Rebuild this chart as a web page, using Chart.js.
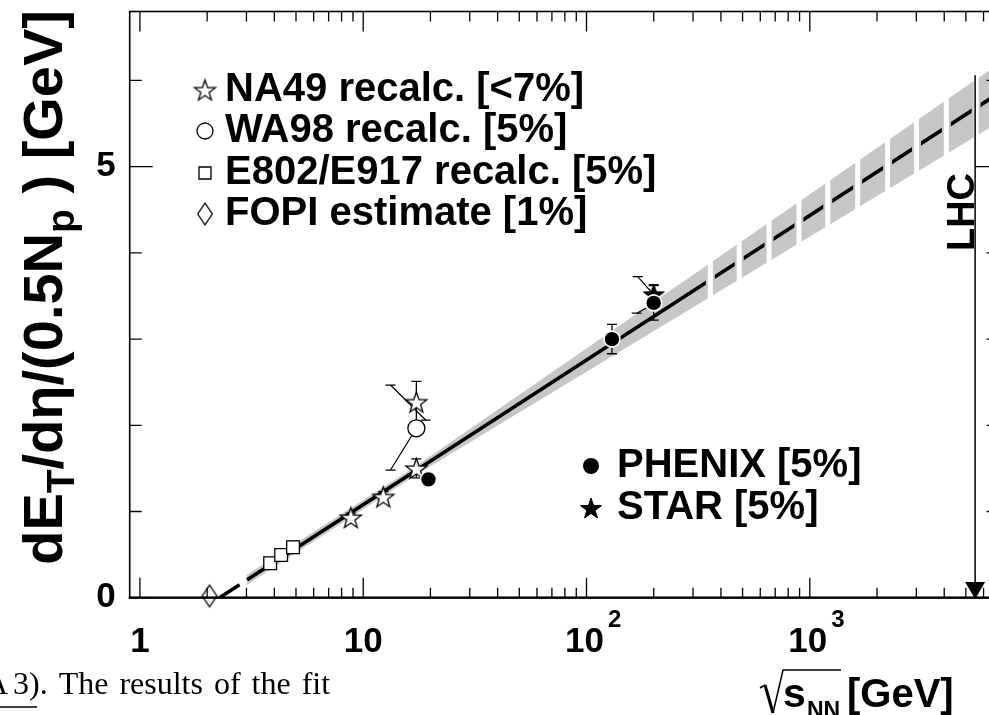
<!DOCTYPE html>
<html><head><meta charset="utf-8">
<script src="https://cdn.jsdelivr.net/npm/chart.js@4.4.0/dist/chart.umd.min.js"></script>
<style>html,body{margin:0;padding:0;overflow:hidden;background:#fff;width:989px;height:715px}canvas{display:block}</style>
</head><body>
<canvas id="c" width="1010" height="715"></canvas>
<script>
// ---------------- data ----------------
const na49X = [8.8, 12.3, 17.3, 17.3];
const na49Y = [0.93, 1.17, 1.50, 2.27];
const na49Err = [0.05, 0.06, 0.11, 0.24];
const wa98X = [17.3];
const wa98Y = [1.965];
const e802X = [3.83, 4.29, 4.85];
const e802Y = [0.40, 0.495, 0.585];
const e802Err = [0.05, 0.06, 0.07];
const fopiX = [2.05];
const fopiY = [0.02];
const phenixX = [19.6, 130, 200];
const phenixY = [1.373, 3.00, 3.42];
const phenixErr = [0.07, 0.17, 0.20];
const starX = [200];
const starY = [3.52];
const starErr = [0.11];
// tilted systematic lines (start / end points)
const tiltX1 = [13.25, 17.3, 169.5, 184.6];
const tiltY1 = [2.467, 1.965, 3.724, 3.357];
const tiltX2 = [19.04, 13.25, 197.7, 167.8];
const tiltY2 = [2.061, 1.481, 3.531, 3.30];
const tiltCap1 = [true, false, true, false];
const tiltCap2 = [true, true, false, true];
// fit line and its uncertainty band
const fitX = [2.27, 4.9, 300, 7000];
const fitY = [0, 0.56, 3.557, 5.851];
const bandX = [3.0, 17, 7000];
const bandLo = [0.143, 1.416, 5.511];
const bandHi = [0.263, 1.516, 6.191];
// breaks of the dashed extrapolation
const gapX = [358.6, 483, 657, 894, 1204, 1639, 2230, 3003, 4087, 5559];
const gapLo = [3.35, 3.55, 3.75, 3.95, 4.15, 4.35, 4.58, 4.8, 5.0, 5.2];
const gapHi = [4.05, 4.25, 4.5, 4.75, 5.0, 5.2, 5.45, 5.7, 5.93, 6.15];
const dashGapY = [3.69, 3.90, 4.13, 4.35, 4.57, 4.79, 5.02, 5.24, 5.46, 5.68];
// LHC marker
const lhcX = [5500, 5500];
const lhcY = [6.06, 0.116];
// axes
const xMajorTicks = [1, 10, 100, 1000];
const xTickBase = ['1', '10', '10', '10'];
const xTickExp = ['', '', '2', '3'];
const yTicks = [0, 1, 2, 3, 4, 5, 6];
const yMajorTicks = [0, 5];
const yTickLabels = ['0', '5'];
const legendTop = ['NA49 recalc. [<7%]', 'WA98 recalc. [5%]', 'E802/E917 recalc. [5%]', 'FOPI estimate [1%]'];
const legendBottom = ['PHENIX [5%]', 'STAR [5%]'];
const paperWords = ['3).', 'The', 'results', 'of', 'the', 'fit'];

// ---------------- marker images ----------------
function makeStar(R, filled, lw) {
  const s = Math.ceil(2 * R + 2 * lw + 2);
  const c = document.createElement('canvas'); c.width = s; c.height = s;
  const g = c.getContext('2d');
  g.translate(s / 2, s / 2 + R * 0.095);
  g.beginPath();
  for (let i = 0; i < 10; i++) {
    const r = i % 2 ? R * 0.4 : R;
    const a = -Math.PI / 2 + i * Math.PI / 5;
    const px = r * Math.cos(a), py = r * Math.sin(a);
    if (i) g.lineTo(px, py); else g.moveTo(px, py);
  }
  g.closePath();
  g.fillStyle = filled ? '#000' : '#fff'; g.fill();
  g.lineWidth = lw; g.strokeStyle = '#000'; g.stroke();
  return c;
}
function makeDiamond(hw, hh, lw) {
  const w = Math.ceil(2 * hw + 2 * lw + 2), h = Math.ceil(2 * hh + 2 * lw + 2);
  const c = document.createElement('canvas'); c.width = w; c.height = h;
  const g = c.getContext('2d');
  g.translate(w / 2, h / 2);
  g.beginPath(); g.moveTo(0, -hh); g.lineTo(hw, 0); g.lineTo(0, hh); g.lineTo(-hw, 0); g.closePath();
  g.fillStyle = '#fff'; g.fill(); g.lineWidth = lw; g.strokeStyle = '#000'; g.stroke();
  return c;
}
const openStar = makeStar(11, false, 1.3);
const fullStar = makeStar(11, true, 1);
const diamond = makeDiamond(7.3, 10.8, 1.3);

// ---------------- tables built from the arrays ----------------
const pts = (xs, ys) => xs.map((x, i) => ({ x: x, y: ys[i] }));
function errTable(xs, ys, es) {
  const out = [];
  xs.forEach((x, i) => { if (es[i] > 0) { out.push({ x: x, y: ys[i] - es[i] }, { x: x, y: ys[i] + es[i] }, { x: x, y: null }); } });
  return out;
}
const errData = [].concat(errTable(na49X, na49Y, na49Err), errTable(e802X, e802Y, e802Err),
  errTable(phenixX, phenixY, phenixErr), errTable(starX, starY, starErr));
const tiltData = [], tiltRad = [];
tiltX1.forEach((x, i) => {
  tiltData.push({ x: x, y: tiltY1[i] }, { x: tiltX2[i], y: tiltY2[i] }, { x: tiltX2[i], y: null });
  tiltRad.push(tiltCap1[i] ? 5 : 0, tiltCap2[i] ? 5 : 0, 0);
});
const gapData = [];
gapX.forEach((x, i) => { gapData.push({ x: x, y: gapLo[i] }, { x: x, y: gapHi[i] }, { x: x, y: null }); });
const dashGapData = errTable(gapX, dashGapY, gapX.map(() => 0.08));

const FONT = '"Liberation Sans", Arial, Helvetica, sans-serif';

const decor = {
  id: 'decor',
  afterDraw(chart) {
    const ctx = chart.ctx, a = chart.chartArea, xs = chart.scales.x, ys = chart.scales.y;
    ctx.save();
    ctx.strokeStyle = '#000'; ctx.fillStyle = '#000';
    // frame
    ctx.lineWidth = 1.6;
    ctx.strokeRect(a.left, a.top, a.right - a.left, a.bottom - a.top);
    ctx.lineWidth = 2.2;
    ctx.beginPath(); ctx.moveTo(a.left - 1, a.bottom); ctx.lineTo(a.right, a.bottom); ctx.stroke();
    // x ticks
    ctx.lineWidth = 1.3;
    const minors = [];
    for (let d = 1; d <= 1000; d *= 10) for (let m = 2; m <= 9; m++) if (m * d <= xs.max) minors.push(m * d);
    const tick = (v, len) => {
      const p = xs.getPixelForValue(v);
      ctx.beginPath(); ctx.moveTo(p, a.bottom); ctx.lineTo(p, a.bottom - len);
      ctx.moveTo(p, a.top); ctx.lineTo(p, a.top + len); ctx.stroke();
    };
    xMajorTicks.forEach(v => tick(v, 20));
    minors.forEach(v => tick(v, 10));
    yTicks.forEach(v => {
      const p = ys.getPixelForValue(v);
      const len = yMajorTicks.includes(v) ? 23 : 12;
      ctx.beginPath(); ctx.moveTo(a.left, p); ctx.lineTo(a.left + len, p);
      ctx.moveTo(a.right, p); ctx.lineTo(a.right - len, p); ctx.stroke();
    });
    // y labels
    ctx.font = 'bold 35px ' + FONT;
    ctx.textAlign = 'right'; ctx.textBaseline = 'middle';
    yMajorTicks.forEach((v, i) => ctx.fillText(yTickLabels[i], a.left - 14, ys.getPixelForValue(v)));
    // x labels
    ctx.textBaseline = 'alphabetic';
    xMajorTicks.forEach((v, i) => {
      const p = xs.getPixelForValue(v);
      ctx.font = 'bold 35px ' + FONT; ctx.textAlign = 'center';
      const w = ctx.measureText(xTickBase[i]).width;
      const cx = xTickExp[i] ? p - 2 : p;
      ctx.fillText(xTickBase[i], cx, 652);
      if (xTickExp[i]) {
        ctx.font = 'bold 24px ' + FONT; ctx.textAlign = 'left';
        ctx.fillText(xTickExp[i], cx + w / 2 + 4, 627);
      }
    });
    // x title: sqrt(s_NN) [GeV]
    ctx.textAlign = 'left';
    ctx.lineWidth = 1.5;
    ctx.beginPath(); ctx.moveTo(760, 688); ctx.lineTo(765, 685); ctx.stroke();
    ctx.lineWidth = 3;
    ctx.beginPath(); ctx.moveTo(765, 685); ctx.lineTo(773, 713); ctx.stroke();
    ctx.lineWidth = 1.5;
    ctx.beginPath(); ctx.moveTo(773, 713); ctx.lineTo(783, 670); ctx.lineTo(841, 670); ctx.stroke();
    ctx.font = 'bold 41px ' + FONT;
    ctx.fillText('s', 783, 707);
    ctx.font = 'bold 23px ' + FONT;
    ctx.fillText('NN', 807, 718);
    ctx.font = 'bold 40px ' + FONT;
    ctx.fillText('[GeV]', 847, 707);
    // y title (rotated)
    const yParts = [['dE', 0], ['T', 1], ['/d\u03b7/(0.5N', 0], ['p', 1], [' ) [GeV]', 0]];
    const mainF = 'bold 56px ' + FONT, subF = 'bold 39px ' + FONT;
    let total = 0;
    yParts.forEach(pr => { ctx.font = pr[1] ? subF : mainF; total += ctx.measureText(pr[0]).width; });
    ctx.save();
    ctx.translate(62, 10 + total); ctx.rotate(-Math.PI / 2);
    let xx = 0;
    yParts.forEach(pr => { ctx.font = pr[1] ? subF : mainF; ctx.fillText(pr[0], xx, pr[1] ? 12 : 0); xx += ctx.measureText(pr[0]).width; });
    ctx.restore();
    // LHC label
    ctx.save();
    ctx.font = 'bold 38px ' + FONT;
    ctx.translate(974, 212); ctx.rotate(-Math.PI / 2);
    ctx.textAlign = 'center'; ctx.fillText('LHC', 0, 0);
    ctx.restore();
    // legends
    ctx.font = 'bold 40px ' + FONT; ctx.textAlign = 'left'; ctx.textBaseline = 'middle';
    const rows = [90, 131, 173, 214];
    legendTop.forEach((t, i) => ctx.fillText(t, 225, rows[i]));
    ctx.drawImage(openStar, 205 - openStar.width / 2, rows[0] - openStar.height / 2);
    ctx.lineWidth = 1.3; ctx.fillStyle = '#fff';
    ctx.beginPath(); ctx.arc(205, rows[1], 8, 0, 2 * Math.PI); ctx.fill(); ctx.stroke();
    ctx.beginPath(); ctx.rect(199, rows[2] - 6, 12, 12); ctx.fill(); ctx.stroke();
    ctx.drawImage(diamond, 205 - diamond.width / 2, rows[3] - diamond.height / 2);
    ctx.fillStyle = '#000';
    const rows2 = [466, 508];
    legendBottom.forEach((t, i) => ctx.fillText(t, 617, rows2[i]));
    ctx.beginPath(); ctx.arc(591, rows2[0], 8, 0, 2 * Math.PI); ctx.fill();
    ctx.drawImage(fullStar, 591 - fullStar.width / 2, rows2[1] - fullStar.height / 2);
    // surrounding paper text
    ctx.font = '32px "Liberation Serif", "Times New Roman", serif';
    ctx.textBaseline = 'alphabetic';
    ctx.textAlign = 'right'; ctx.fillText('A', 8, 694);
    ctx.textAlign = 'left';
    let px = 13;
    paperWords.forEach(wd => { ctx.fillText(wd, px, 694); px += ctx.measureText(wd).width + 11; });
    ctx.lineWidth = 1.3; ctx.beginPath(); ctx.moveTo(0, 707); ctx.lineTo(37, 707); ctx.stroke();
    ctx.restore();
  }
};

new Chart(document.getElementById('c'), {
  type: 'line',
  data: {
    datasets: [
      { label: 'band low', data: pts(bandX, bandLo), borderWidth: 0, pointRadius: 0, order: 100 },
      { label: 'band high', data: pts(bandX, bandHi), borderWidth: 0, pointRadius: 0, fill: 0, backgroundColor: '#c6c6c6', order: 99 },
      { label: 'fit', data: pts(fitX, fitY), borderColor: '#000', borderWidth: 3.6, pointRadius: 0, order: 90,
        segment: { borderDash: c => c.p0DataIndex === 0 ? [24, 9] : undefined } },
      { label: 'dash gaps', data: dashGapData, borderColor: '#c6c6c6', borderWidth: 9, borderCapStyle: 'butt', pointRadius: 0, spanGaps: false, order: 85 },
      { label: 'gaps', data: gapData, borderColor: '#fff', borderWidth: 5, borderCapStyle: 'butt', pointRadius: 0, spanGaps: false, order: 80 },
      { label: 'LHC', data: pts(lhcX, lhcY), borderColor: '#000', borderWidth: 1.5, pointRadius: [0, 10], pointStyle: 'triangle',
        pointRotation: 180, pointBackgroundColor: '#000', pointBorderColor: '#000', order: 70, clip: false },
      { label: 'errors', data: errData, borderColor: '#000', borderWidth: 1.3, pointStyle: 'line', pointRadius: 5,
        pointBorderColor: '#000', pointBorderWidth: 1.3, spanGaps: false, order: 60 },
      { label: 'tilted', data: tiltData, borderColor: '#000', borderWidth: 1.2, pointStyle: 'line', pointRadius: tiltRad,
        pointBorderColor: '#000', pointBorderWidth: 1.3, spanGaps: false, order: 60 },
      { label: 'E802/E917', data: pts(e802X, e802Y), showLine: false, pointStyle: 'rect', pointRadius: 9,
        pointBackgroundColor: '#fff', pointBorderColor: '#000', pointBorderWidth: 1.3, order: 20 },
      { label: 'FOPI', data: pts(fopiX, fopiY), showLine: false, pointStyle: diamond, order: 20, clip: false },
      { label: 'NA49', data: pts(na49X, na49Y), showLine: false, pointStyle: openStar, order: 20 },
      { label: 'WA98', data: pts(wa98X, wa98Y), showLine: false, pointStyle: 'circle', pointRadius: 8.5,
        pointBackgroundColor: '#fff', pointBorderColor: '#000', pointBorderWidth: 1.3, order: 20 },
      { label: 'STAR', data: pts(starX, starY), showLine: false, pointStyle: fullStar, order: 15 },
      { label: 'PHENIX', data: pts(phenixX, phenixY), showLine: false, pointStyle: 'circle', pointRadius: 8,
        pointBackgroundColor: '#000', pointBorderColor: '#fff', pointBorderWidth: 1.6, order: 10 }
    ]
  },
  options: {
    responsive: false, animation: false, events: [],
    layout: { padding: { left: 129.7, top: 11.5, right: 7.5, bottom: 117.3 } },
    plugins: { legend: { display: false }, tooltip: { enabled: false } },
    scales: {
      x: { type: 'logarithmic', min: 0.9, max: 7000, display: false, offset: false },
      y: { type: 'linear', min: 0, max: 6.8, display: false }
    }
  },
  plugins: [decor]
});
</script>
</body></html>
